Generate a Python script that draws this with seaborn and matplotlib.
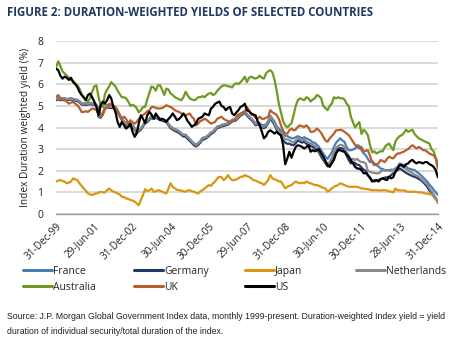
import numpy as np
import pandas as pd
import matplotlib
matplotlib.use("Agg")
import matplotlib.pyplot as plt
import seaborn as sns
from matplotlib.lines import Line2D

# ---------------- data (monthly, Dec-1999 .. Dec-2014) ----------------
france = [5.32,
    5.37, 5.32, 5.36, 5.36, 5.32, 5.33, 5.36, 5.32, 5.30, 5.28, 5.22, 5.12,
    5.12, 5.12, 5.12, 5.14, 5.12, 5.10, 5.07, 4.57, 4.52, 4.67, 4.92, 5.05,
    4.97, 4.97, 4.99, 4.92, 4.77, 4.60, 4.42, 4.27, 4.20, 4.12, 4.17, 4.12,
    3.97, 3.82, 3.89, 3.97, 4.12, 4.28, 4.32, 4.42, 4.52, 4.47, 4.52, 4.47,
    4.42, 4.40, 4.36, 4.32, 4.17, 4.05, 3.97, 3.92, 3.89, 3.82, 3.74, 3.67,
    3.67, 3.57, 3.47, 3.36, 3.27, 3.20, 3.28, 3.37, 3.52, 3.54, 3.59, 3.67,
    3.77, 3.82, 3.92, 4.05, 4.07, 4.12, 4.14, 4.17, 4.20, 4.27, 4.36, 4.37,
    4.42, 4.52, 4.62, 4.67, 4.77, 4.62, 4.52, 4.42, 4.32, 4.20, 4.25, 4.20,
    4.12, 4.10, 4.15, 4.30, 4.55, 4.40, 4.28, 4.05, 3.95, 3.85, 3.70, 3.62,
    3.60, 3.55, 3.50, 3.50, 3.55, 3.60, 3.55, 3.50, 3.55, 3.50, 3.45, 3.40,
    3.30, 3.30, 3.20, 3.10, 2.95, 2.80, 2.65, 2.55, 2.70, 2.85, 3.10, 3.30,
    3.40, 3.50, 3.40, 3.34, 3.10, 2.95, 2.95, 2.98, 3.03, 3.18, 3.15, 2.95,
    2.80, 2.72, 2.55, 2.40, 2.45, 2.35, 2.26, 2.20, 2.10, 2.08, 2.03, 2.03,
    2.03, 2.05, 2.03, 2.10, 2.18, 2.34, 2.30, 2.26, 2.20, 2.10, 2.08, 2.05,
    2.03, 1.95, 1.88, 1.80, 1.70, 1.60, 1.50, 1.36, 1.26, 1.12, 1.00, 0.88]

germany = [5.26,
    5.30, 5.26, 5.30, 5.30, 5.26, 5.28, 5.30, 5.26, 5.24, 5.22, 5.16, 5.06,
    5.06, 5.05, 5.06, 5.08, 5.06, 5.04, 5.00, 4.50, 4.45, 4.60, 4.86, 4.98,
    4.90, 4.90, 4.92, 4.85, 4.70, 4.52, 4.35, 4.20, 4.12, 4.05, 4.10, 4.05,
    3.90, 3.74, 3.82, 3.90, 4.05, 4.20, 4.25, 4.35, 4.45, 4.40, 4.45, 4.40,
    4.35, 4.32, 4.28, 4.25, 4.10, 3.97, 3.90, 3.84, 3.80, 3.74, 3.66, 3.58,
    3.58, 3.48, 3.38, 3.28, 3.18, 3.12, 3.20, 3.30, 3.44, 3.46, 3.52, 3.60,
    3.70, 3.75, 3.85, 3.98, 4.00, 4.05, 4.07, 4.10, 4.13, 4.20, 4.28, 4.30,
    4.35, 4.45, 4.55, 4.60, 4.70, 4.55, 4.45, 4.35, 4.25, 4.10, 4.15, 4.10,
    4.00, 3.97, 4.04, 4.20, 4.45, 4.28, 4.12, 3.88, 3.75, 3.62, 3.40, 3.30,
    3.25, 3.25, 3.20, 3.18, 3.28, 3.40, 3.35, 3.30, 3.35, 3.25, 3.20, 3.15,
    3.10, 3.05, 2.95, 2.85, 2.65, 2.50, 2.35, 2.20, 2.30, 2.50, 2.75, 2.95,
    3.03, 3.05, 3.03, 2.95, 2.70, 2.50, 2.34, 2.40, 2.35, 2.28, 2.26, 2.15,
    2.05, 2.00, 1.80, 1.65, 1.55, 1.50, 1.55, 1.57, 1.62, 1.65, 1.68, 1.70,
    1.72, 1.80, 1.88, 1.95, 2.03, 2.10, 2.05, 1.98, 1.90, 1.85, 1.80, 1.75,
    1.72, 1.68, 1.62, 1.57, 1.48, 1.38, 1.25, 1.10, 0.98, 0.82, 0.70, 0.57]

japan = [1.50,
    1.55, 1.57, 1.52, 1.50, 1.42, 1.45, 1.50, 1.65, 1.60, 1.57, 1.42, 1.30,
    1.18, 1.08, 0.95, 0.90, 0.88, 0.92, 0.95, 0.98, 1.03, 1.00, 1.00, 1.10,
    1.18, 1.10, 1.03, 1.00, 0.95, 0.90, 0.80, 0.78, 0.72, 0.70, 0.65, 0.62,
    0.57, 0.50, 0.40, 0.65, 0.88, 1.15, 1.05, 1.10, 1.18, 1.03, 1.05, 1.10,
    1.08, 1.03, 0.98, 0.95, 1.18, 1.42, 1.25, 1.18, 1.12, 1.10, 1.08, 1.05,
    1.03, 1.08, 1.10, 1.05, 1.03, 0.98, 0.95, 1.05, 1.10, 1.18, 1.26, 1.34,
    1.30, 1.42, 1.50, 1.65, 1.72, 1.70, 1.57, 1.65, 1.80, 1.65, 1.57, 1.57,
    1.60, 1.65, 1.72, 1.72, 1.80, 1.75, 1.72, 1.65, 1.57, 1.55, 1.50, 1.45,
    1.42, 1.34, 1.45, 1.57, 1.80, 1.65, 1.60, 1.57, 1.50, 1.50, 1.35, 1.18,
    1.26, 1.30, 1.34, 1.42, 1.50, 1.45, 1.42, 1.45, 1.42, 1.50, 1.45, 1.42,
    1.38, 1.34, 1.34, 1.30, 1.26, 1.20, 1.18, 1.03, 1.10, 1.18, 1.26, 1.30,
    1.34, 1.42, 1.38, 1.34, 1.30, 1.26, 1.26, 1.26, 1.26, 1.25, 1.22, 1.18,
    1.18, 1.15, 1.15, 1.12, 1.10, 1.10, 1.10, 1.10, 1.08, 1.10, 1.10, 1.08,
    1.05, 1.03, 1.00, 1.18, 1.10, 1.10, 1.08, 1.10, 1.05, 1.03, 1.03, 1.03,
    1.03, 1.02, 1.00, 1.00, 0.98, 0.95, 0.95, 0.92, 0.90, 0.85, 0.72, 0.50]

netherlands = [5.30,
    5.35, 5.30, 5.35, 5.34, 5.30, 5.32, 5.34, 5.30, 5.28, 5.26, 5.20, 5.10,
    5.10, 5.10, 5.10, 5.12, 5.10, 5.08, 5.05, 4.55, 4.50, 4.65, 4.90, 5.03,
    4.95, 4.95, 4.97, 4.90, 4.75, 4.57, 4.40, 4.25, 4.18, 4.10, 4.15, 4.10,
    3.95, 3.80, 3.87, 3.95, 4.10, 4.26, 4.30, 4.40, 4.50, 4.45, 4.50, 4.45,
    4.40, 4.38, 4.34, 4.30, 4.15, 4.03, 3.95, 3.90, 3.87, 3.80, 3.72, 3.65,
    3.65, 3.55, 3.45, 3.34, 3.25, 3.18, 3.26, 3.35, 3.50, 3.52, 3.57, 3.65,
    3.75, 3.80, 3.90, 4.03, 4.05, 4.10, 4.12, 4.15, 4.18, 4.25, 4.34, 4.35,
    4.40, 4.50, 4.60, 4.65, 4.75, 4.60, 4.50, 4.40, 4.30, 4.15, 4.20, 4.15,
    4.05, 4.03, 4.10, 4.26, 4.50, 4.35, 4.20, 3.95, 3.85, 3.75, 3.57, 3.45,
    3.45, 3.40, 3.35, 3.30, 3.40, 3.50, 3.45, 3.40, 3.45, 3.35, 3.30, 3.25,
    3.20, 3.15, 3.05, 2.95, 2.75, 2.60, 2.45, 2.30, 2.40, 2.60, 2.85, 3.05,
    3.15, 3.20, 3.18, 3.10, 2.85, 2.70, 2.50, 2.55, 2.50, 2.55, 2.45, 2.40,
    2.40, 2.34, 2.00, 1.95, 1.92, 1.90, 1.88, 1.88, 1.95, 2.03, 2.00, 2.02,
    2.00, 1.98, 2.05, 2.10, 2.18, 2.26, 2.20, 2.15, 2.10, 2.00, 1.95, 1.90,
    1.82, 1.78, 1.72, 1.65, 1.55, 1.45, 1.35, 1.20, 1.05, 0.90, 0.75, 0.57]

australia = [6.80,
    7.06, 6.85, 6.60, 6.50, 6.40, 6.30, 6.20, 6.15, 6.05, 5.95, 5.80, 5.55,
    5.35, 5.30, 5.20, 5.35, 5.65, 5.90, 5.95, 5.40, 5.00, 4.95, 5.55, 5.75,
    5.90, 6.10, 6.00, 5.90, 5.70, 5.55, 5.40, 5.40, 5.35, 5.20, 5.00, 5.05,
    5.00, 4.90, 4.70, 4.80, 4.95, 4.95, 5.30, 5.60, 5.90, 5.85, 5.70, 5.95,
    5.95, 5.75, 5.50, 5.80, 5.75, 5.57, 5.50, 5.40, 5.35, 5.30, 5.26, 5.40,
    5.65, 5.50, 5.35, 5.30, 5.26, 5.30, 5.40, 5.40, 5.45, 5.40, 5.50, 5.57,
    5.60, 5.50, 5.55, 5.70, 5.80, 5.90, 5.95, 5.95, 5.90, 5.90, 5.85, 6.00,
    6.05, 6.00, 6.10, 6.20, 6.35, 6.10, 6.30, 6.35, 6.30, 6.26, 6.30, 6.40,
    6.30, 6.26, 6.50, 6.60, 6.65, 6.55, 6.20, 5.70, 5.10, 4.70, 4.30, 4.10,
    4.00, 4.10, 4.20, 4.57, 5.00, 5.26, 5.35, 5.30, 5.26, 5.40, 5.35, 5.20,
    5.30, 5.35, 5.50, 5.45, 5.35, 5.00, 4.90, 4.80, 5.00, 5.10, 5.40, 5.35,
    5.40, 5.35, 5.35, 5.30, 5.10, 5.00, 4.50, 4.25, 4.00, 4.15, 4.25, 3.70,
    3.90, 3.80, 3.65, 3.20, 2.85, 2.90, 2.80, 2.85, 2.90, 2.90, 3.10, 3.20,
    3.26, 3.10, 2.95, 3.35, 3.50, 3.60, 3.65, 3.75, 3.90, 3.80, 3.85, 3.90,
    3.70, 3.60, 3.50, 3.45, 3.40, 3.35, 3.30, 3.26, 3.00, 2.90, 2.60, 2.35]

uk = [5.42,
    5.50, 5.35, 5.26, 5.26, 5.20, 5.10, 5.15, 5.18, 5.10, 5.03, 4.90, 4.72,
    4.72, 4.75, 4.72, 4.80, 4.88, 4.85, 4.80, 4.95, 4.57, 4.65, 4.88, 4.90,
    5.10, 5.05, 5.03, 4.95, 4.80, 4.57, 4.40, 4.50, 4.40, 4.18, 4.34, 4.25,
    4.18, 4.25, 4.40, 4.50, 4.57, 4.65, 4.75, 4.80, 4.95, 4.95, 4.90, 4.88,
    4.88, 4.90, 4.95, 5.03, 4.98, 4.95, 4.88, 4.80, 4.75, 4.72, 4.65, 4.60,
    4.57, 4.60, 4.65, 4.50, 4.40, 4.10, 4.18, 4.30, 4.34, 4.40, 4.35, 4.26,
    4.18, 4.22, 4.26, 4.40, 4.45, 4.50, 4.40, 4.34, 4.30, 4.26, 4.30, 4.34,
    4.50, 4.60, 4.65, 4.70, 4.72, 4.95, 4.80, 4.60, 4.57, 4.45, 4.40, 4.50,
    4.40, 4.40, 4.45, 4.50, 4.80, 4.70, 4.65, 4.57, 4.40, 4.10, 3.85, 3.72,
    3.72, 3.87, 3.95, 3.87, 3.90, 4.03, 4.10, 4.05, 4.03, 4.10, 4.00, 3.80,
    3.80, 3.85, 3.95, 3.87, 3.75, 3.57, 3.40, 3.34, 3.50, 3.60, 3.72, 3.87,
    3.87, 3.90, 3.87, 3.80, 3.72, 3.65, 3.50, 3.34, 3.20, 3.10, 3.03, 3.10,
    2.88, 2.92, 2.95, 2.70, 2.40, 2.26, 2.30, 2.34, 2.50, 2.45, 2.40, 2.55,
    2.65, 2.60, 2.57, 2.70, 2.80, 2.80, 2.85, 2.88, 2.95, 3.00, 3.10, 3.18,
    3.10, 3.03, 3.10, 3.05, 2.95, 2.95, 2.88, 2.80, 2.75, 2.72, 2.57, 2.10]

us = [6.72,
    6.65, 6.40, 6.26, 6.35, 6.30, 6.20, 6.30, 6.10, 6.00, 5.87, 5.65, 5.50,
    5.40, 5.26, 5.50, 5.57, 5.40, 5.20, 4.95, 4.57, 5.03, 5.20, 5.10, 5.26,
    5.50, 5.35, 4.95, 4.72, 4.26, 4.03, 4.26, 4.10, 3.95, 4.03, 4.18, 3.80,
    3.57, 3.72, 4.18, 4.57, 4.40, 4.20, 4.57, 4.72, 4.60, 4.40, 4.65, 4.50,
    4.34, 4.40, 4.35, 4.26, 4.40, 4.50, 4.65, 4.50, 4.34, 4.40, 4.50, 4.65,
    4.50, 4.30, 4.18, 4.03, 4.10, 4.18, 4.40, 4.45, 4.50, 4.65, 4.60, 4.57,
    4.88, 4.95, 5.10, 5.15, 5.20, 5.00, 4.95, 4.80, 4.90, 4.95, 4.65, 4.57,
    4.70, 4.80, 4.95, 5.00, 5.10, 4.80, 4.75, 4.65, 4.60, 4.57, 4.30, 4.10,
    3.80, 3.50, 3.60, 3.80, 3.87, 3.80, 3.72, 3.80, 3.70, 3.65, 3.20, 2.30,
    2.57, 2.88, 2.60, 2.88, 3.10, 3.18, 3.15, 3.10, 3.03, 3.10, 3.18, 2.88,
    2.95, 2.90, 2.95, 3.00, 2.80, 2.65, 2.45, 2.26, 2.18, 2.35, 2.50, 2.80,
    2.95, 2.95, 2.90, 2.88, 2.75, 2.65, 2.50, 2.34, 2.18, 2.10, 2.10, 2.03,
    1.88, 1.90, 1.80, 1.70, 1.50, 1.55, 1.57, 1.50, 1.60, 1.65, 1.60, 1.57,
    1.72, 1.65, 1.70, 1.95, 2.10, 2.26, 2.26, 2.18, 2.30, 2.34, 2.45, 2.50,
    2.40, 2.34, 2.40, 2.38, 2.34, 2.40, 2.40, 2.30, 2.26, 2.18, 2.03, 1.70]

countries = ["France", "Germany", "Japan", "Netherlands", "Australia", "UK", "US"]
series = [france, germany, japan, netherlands, australia, uk, us]
tick_labels = ["31-Dec-99", "29-Jun-01", "31-Dec-02", "30-Jun-04", "30-Dec-05",
               "29-Jun-07", "31-Dec-08", "30-Jun-10", "30-Dec-11", "28-Jun-13",
               "31-Dec-14"]
colors = {"France": "#4a7ebb", "Germany": "#1f3a64", "Japan": "#d9960f",
          "Netherlands": "#8a8a8a", "Australia": "#6e9a22", "UK": "#b5602b",
          "US": "#000000"}

dates = pd.date_range("1999-12-31", periods=len(france), freq="ME")
df = pd.concat([pd.DataFrame({"date": dates, "yield": v, "country": c})
                for c, v in zip(countries, series)], ignore_index=True)

# ---------------- figure ----------------
sns.set_theme(style="white")
plt.rcParams["font.family"] = ["Open Sans", "DejaVu Sans"]

fig = plt.figure(figsize=(4.67, 3.43), dpi=100)
ax = fig.add_axes([56/467, 1 - 214/343, (438-56)/467, (214-41)/343])

sns.lineplot(data=df, x="date", y="yield", hue="country", hue_order=countries,
             palette=colors, linewidth=1.6, ax=ax, legend=False)

ax.set_ylim(0, 8)
ax.set_yticks(range(0, 9))
ax.set_xlim(dates[0] - pd.Timedelta(days=2), dates[-1] + pd.Timedelta(days=2))
ax.set_xticks(dates[::18])
ax.set_xticklabels(tick_labels, rotation=45, ha="right", rotation_mode="anchor",
                   fontsize=7.2, color="#222222")
ax.tick_params(axis="x", length=0, pad=5)
ax.tick_params(axis="y", length=0, pad=9, labelsize=7.5, labelcolor="#222222")
ax.yaxis.grid(True, color="#d0d0d0", linewidth=1.1)
ax.xaxis.grid(False)
for s in ["top", "right", "left"]:
    ax.spines[s].set_visible(False)
ax.spines["bottom"].set_color("#a0a0a0")
ax.spines["bottom"].set_linewidth(1.0)
ax.set_xlabel("")
ax.set_ylabel("Index Duration weighted yield (%)", fontsize=7.3, color="#222222",
              labelpad=5)

fig.text(7/467, 1 - 13/343, "FIGURE 2: DURATION-WEIGHTED YIELDS OF SELECTED COUNTRIES",
         fontsize=8.3, fontweight="bold", color="#1f3864", va="center", ha="left")

# legend: 4 columns laid out row-wise
cols = [["France", "Australia"], ["Germany", "UK"], ["Japan", "US"], ["Netherlands"]]
xs = [23, 134, 245, 356]
for names, x in zip(cols, xs):
    handles = [Line2D([0], [0], color=colors[n], linewidth=2.2) for n in names]
    fig.legend(handles=handles, labels=names, loc="upper left",
               bbox_to_anchor=(x/467, 1 - 266/343), frameon=False,
               fontsize=7.5, handlelength=2.75, handletextpad=0.15,
               labelspacing=0.45, borderaxespad=0, borderpad=0)

src = ("Source: J.P. Morgan Global Government Index data, monthly 1999-present. "
       "Duration-weighted Index yield = yield\n"
       "duration of individual security/total duration of the index.")
fig.text(7/467, 1 - 324/343, src, fontsize=6.3, color="#222222", va="center",
         ha="left", linespacing=1.95,
         family=["Liberation Sans", "DejaVu Sans"])

fig.savefig("out.png", dpi=100)
